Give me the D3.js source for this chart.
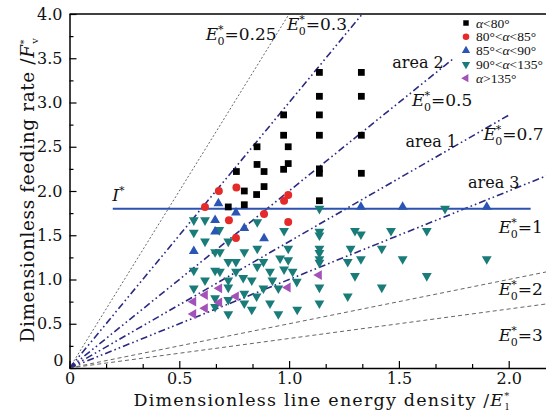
<!DOCTYPE html>
<html>
<head>
<meta charset="utf-8">
<script src="https://cdn.jsdelivr.net/npm/d3@7"></script>
<style>
  body { margin: 0; background: #fff; }
  svg { display: block; font-family: "DejaVu Serif", serif; }
</style>
</head>
<body>
<div id="chart"></div>
<script>
const width = 546;
const height = 413;

// series (x = line energy density, y = feeding rate)
const sqPts = [
    [1.138, 3.34], [1.329, 3.34], [1.138, 3.07], [1.329, 3.07],
    [0.975, 2.86], [1.138, 2.86], [0.975, 2.63], [1.138, 2.63], [1.329, 2.63],
    [0.854, 2.50], [0.996, 2.50], [0.854, 2.30], [0.996, 2.31],
    [0.886, 2.22], [0.975, 2.245], [1.138, 2.25], [1.138, 2.20], [1.329, 2.20],
    [0.760, 2.22], [0.886, 2.05], [0.796, 2.00], [0.852, 1.96],
    [0.723, 1.82], [0.796, 1.845], [1.138, 1.89]
];
const redPts = [
    [0.617, 1.82], [0.680, 2.00], [0.760, 2.04], [0.726, 1.67], [0.758, 1.47],
    [0.886, 1.74], [0.977, 1.89], [0.996, 1.955], [0.996, 1.65]
];
const bluePts = [
    [0.678, 1.86], [0.758, 1.755], [0.663, 1.67], [0.663, 1.54], [0.796, 1.58],
    [0.886, 1.465], [0.566, 1.32], [1.327, 1.82], [1.517, 1.82], [1.90, 1.82]
];
const tealPts = [
    [1.138, 1.80], [0.855, 1.65], [0.977, 1.55], [0.682, 1.56],
    [0.663, 1.31], [0.685, 1.31], [0.796, 1.31], [0.855, 1.35], [0.996, 1.35],
    [1.138, 1.54], [1.138, 1.50], [1.138, 1.35], [1.138, 1.30], [1.138, 1.23], [1.138, 1.19],
    [0.723, 1.20], [0.758, 1.20], [0.855, 1.145], [0.883, 1.20], [0.996, 1.22], [0.959, 1.24],
    [0.977, 1.115], [0.663, 1.10], [0.685, 1.09], [0.758, 1.09], [0.913, 1.09], [1.016, 1.09],
    [0.924, 0.99], [0.830, 0.99], [0.723, 0.99], [0.791, 1.02], [1.035, 0.975],
    [0.883, 0.90], [0.951, 0.90], [0.723, 0.91], [0.796, 0.84], [0.852, 0.81], [1.138, 0.91],
    [0.663, 0.79], [0.723, 0.77], [0.796, 0.73], [0.913, 0.73], [1.138, 0.73],
    [0.663, 0.69], [0.723, 0.61], [0.830, 0.66], [0.951, 0.61], [1.037, 0.66],
    [0.566, 1.67], [0.617, 1.67], [0.566, 1.53], [0.617, 1.43], [0.723, 1.43],
    [0.566, 1.10], [0.617, 0.99], [0.566, 0.90],
    [1.300, 1.55], [1.327, 1.51], [1.464, 1.55], [1.627, 1.55],
    [1.280, 1.35], [1.422, 1.35], [1.267, 1.20], [1.327, 1.23], [1.517, 1.23],
    [1.300, 1.04], [1.627, 1.04], [1.422, 0.91], [1.267, 0.81], [1.90, 1.23], [1.71, 1.80]
];
const pinkPts = [
    [0.564, 0.75], [0.564, 0.61], [0.617, 0.825], [0.617, 0.675],
    [0.682, 0.90], [0.682, 0.74], [0.758, 0.81], [0.994, 0.91], [1.136, 1.05]
];

// E0* reference lines: y = x / E0, drawn out to xEnd
const e0Vals = [0.25, 1 / 3, 0.5, 0.7, 1, 2, 3];
const e0End = [1.0, 1.333, 1.75, 2.0, 2.2, 2.2, 2.2];
const e0Style = ["dot", "dashdot", "dashdot", "dashdot", "dashdot", "dash", "dash"];
const e0Text = ["0.25", "0.3", "0.5", "0.7", "1", "2", "3"];
const e0LabelX = [0.62, 0.99, 1.56, 1.885, 1.955, 1.955, 1.955];
const e0LabelY = [3.71, 3.82, 2.96, 2.58, 1.53, 0.83, 0.31];

const areaText = ["area 2", "area 1", "area 3"];
const areaX = [1.47, 1.53, 1.815];
const areaY = [3.39, 2.50, 2.03];

const iStarY = 1.8;
const iStarX = [0.197, 2.1];

const xMajor = [0, 0.5, 1.0, 1.5, 2.0];
const yMajor = [0, 0.5, 1.0, 1.5, 2.0, 2.5, 3.0, 3.5, 4.0];

const legendText = ["α<80°", "80°<α<85°", "85°<α<90°", "90°<α<135°", "α>135°"];

const x = d3.scaleLinear().domain([0, 2.2]).range([69.5, 69.5 + 2.2 * 219.6]);
const y = d3.scaleLinear().domain([0, 4]).range([368, 14]);

const svg = d3.select("#chart").append("svg")
    .attr("width", width)
    .attr("height", height);

// reference lines
const dashFor = { dot: "2,2", dash: "4,3", dashdot: "7,3,1.6,3,1.6,3" };
const lineG = svg.append("g");
e0Vals.forEach((e, i) => {
    const st = e0Style[i];
    lineG.append("line")
        .attr("x1", x(0)).attr("y1", y(0))
        .attr("x2", x(e0End[i])).attr("y2", y(e0End[i] / e))
        .attr("stroke", st === "dashdot" ? "#2b2a82" : "#666")
        .attr("stroke-width", st === "dashdot" ? 1.6 : 1)
        .attr("stroke-dasharray", dashFor[st]);
});

// I* line
svg.append("line")
    .attr("x1", x(iStarX[0])).attr("x2", x(iStarX[1]))
    .attr("y1", y(iStarY)).attr("y2", y(iStarY))
    .attr("stroke", "#2d52b0")
    .attr("stroke-width", 2);

// markers
const sym = (type, size) => d3.symbol().type(type).size(size)();
function drawSeries(pts, path, fill, rotate) {
    svg.append("g").selectAll("path")
        .data(pts)
        .join("path")
        .attr("d", path)
        .attr("fill", fill)
        .attr("transform", d => `translate(${x(d[0])},${y(d[1])}) rotate(${rotate})`);
}
drawSeries(tealPts, sym(d3.symbolTriangle, 42), "#1a7c78", 180);
drawSeries(pinkPts, sym(d3.symbolTriangle, 42), "#a352b9", -90);
drawSeries(bluePts, sym(d3.symbolTriangle, 42), "#2b55b5", 0);
drawSeries(redPts, sym(d3.symbolCircle, 50), "#e52a2a", 0);
drawSeries(sqPts, sym(d3.symbolSquare, 46), "#000", 0);

// axes (ticks point inward)
const xAxis = d3.axisBottom(x)
    .tickValues(d3.range(0, 13).map(i => i / 6))
    .tickSizeInner(-6).tickSizeOuter(0).tickPadding(2)
    .tickFormat(d => {
        const m = xMajor.find(v => Math.abs(v - d) < 1e-6);
        return m === undefined ? "" : (m === 0 ? "0" : m.toFixed(1));
    });
const gx = svg.append("g").attr("transform", `translate(0,${y(0)})`).call(xAxis);
gx.selectAll(".tick line").attr("y2", d => xMajor.some(v => Math.abs(v - d) < 1e-6) ? -7 : -4);

const yAxis = d3.axisLeft(y)
    .tickValues(d3.range(0, 17).map(i => i / 4))
    .tickSizeInner(-6).tickSizeOuter(0).tickPadding(7)
    .tickFormat(d => {
        const m = yMajor.find(v => Math.abs(v - d) < 1e-6);
        return m === undefined ? "" : (m === 0 ? "" : m.toFixed(1));
    });
const gy = svg.append("g").attr("transform", `translate(${x(0)},0)`).call(yAxis);
gy.selectAll(".tick line").attr("x2", d => yMajor.some(v => Math.abs(v - d) < 1e-6) ? 7 : 4);

[gx, gy].forEach(g => {
    g.select(".domain").attr("stroke", "#000").attr("stroke-width", 1.5);
    g.selectAll(".tick line").attr("stroke", "#000").attr("stroke-width", 1.2);
    g.selectAll("text").attr("font-family", "DejaVu Serif").attr("font-size", 16).attr("fill", "#111");
});
gx.selectAll(".tick text").attr("dy", "0.9em");
// y origin label sits low-left of the corner
svg.append("text").attr("x", x(0) - 6).attr("y", y(0) - 2)
    .attr("text-anchor", "end").attr("font-size", 16).attr("fill", "#111").text("0");

// top frame
svg.append("line")
    .attr("x1", x(0)).attr("x2", width)
    .attr("y1", y(4)).attr("y2", y(4))
    .attr("stroke", "#000").attr("stroke-width", 1.5);

// E0* labels
function e0Label(px, py, val) {
    const t = svg.append("text").attr("x", px).attr("y", py)
        .attr("font-size", 17).attr("fill", "#111");
    t.append("tspan").attr("font-style", "italic").text("E");
    t.append("tspan").attr("font-size", 11).attr("dy", -7).text("*");
    t.append("tspan").attr("font-size", 11).attr("dx", -6).attr("dy", 12).text("0");
    t.append("tspan").attr("dy", -5).text("=" + val);
}
e0Text.forEach((v, i) => e0Label(x(e0LabelX[i]), y(e0LabelY[i]), v));

areaText.forEach((v, i) => {
    svg.append("text").attr("x", x(areaX[i])).attr("y", y(areaY[i]))
        .attr("font-size", 16).attr("fill", "#111").text(v);
});

// I* label
const it = svg.append("text").attr("x", x(0.195)).attr("y", y(1.89))
    .attr("font-size", 17).attr("fill", "#111");
it.append("tspan").attr("font-style", "italic").text("I");
it.append("tspan").attr("font-size", 11).attr("dy", -7).text("*");

// legend
const legendMarks = [
    { p: sym(d3.symbolSquare, 30), c: "#000", r: 0 },
    { p: sym(d3.symbolCircle, 34), c: "#e52a2a", r: 0 },
    { p: sym(d3.symbolTriangle, 30), c: "#2b55b5", r: 0 },
    { p: sym(d3.symbolTriangle, 30), c: "#1a7c78", r: 180 },
    { p: sym(d3.symbolTriangle, 30), c: "#a352b9", r: -90 }
];
const lg = svg.append("g").attr("transform", "translate(466,23)");
legendText.forEach((t, i) => {
    const m = legendMarks[i];
    lg.append("path").attr("d", m.p).attr("fill", m.c)
        .attr("transform", `translate(0,${i * 13.8}) rotate(${m.r})`);
    const txt = lg.append("text").attr("x", 10).attr("y", i * 13.8 + 4.5)
        .attr("font-family", "Liberation Serif").attr("font-size", 13.5).attr("fill", "#111");
    // italic alpha
    t.split(/(α)/).forEach(part => {
        if (!part) return;
        const s = txt.append("tspan").text(part);
        if (part === "α") s.attr("font-style", "italic");
    });
});

// axis titles
const xt = svg.append("text").attr("x", 322).attr("y", 406)
    .attr("text-anchor", "middle").attr("font-size", 17.5)
    .attr("letter-spacing", 1.2).attr("fill", "#111");
xt.append("tspan").text("Dimensionless line energy density /");
xt.append("tspan").attr("font-style", "italic").text("E");
xt.append("tspan").attr("font-size", 10).attr("dy", -7).text("*");
xt.append("tspan").attr("font-size", 10).attr("dx", -5).attr("dy", 11).text("l");

const yt = svg.append("text")
    .attr("transform", "translate(34,190) rotate(-90)")
    .attr("text-anchor", "middle").attr("font-size", 18.5)
    .attr("letter-spacing", 0.6).attr("fill", "#111");
yt.append("tspan").text("Dimensionless feeding rate /");
yt.append("tspan").attr("font-style", "italic").text("F");
yt.append("tspan").attr("font-size", 10).attr("dy", -7).text("*");
yt.append("tspan").attr("font-size", 10).attr("dx", -5).attr("dy", 11).text("v");
</script>
</body>
</html>
